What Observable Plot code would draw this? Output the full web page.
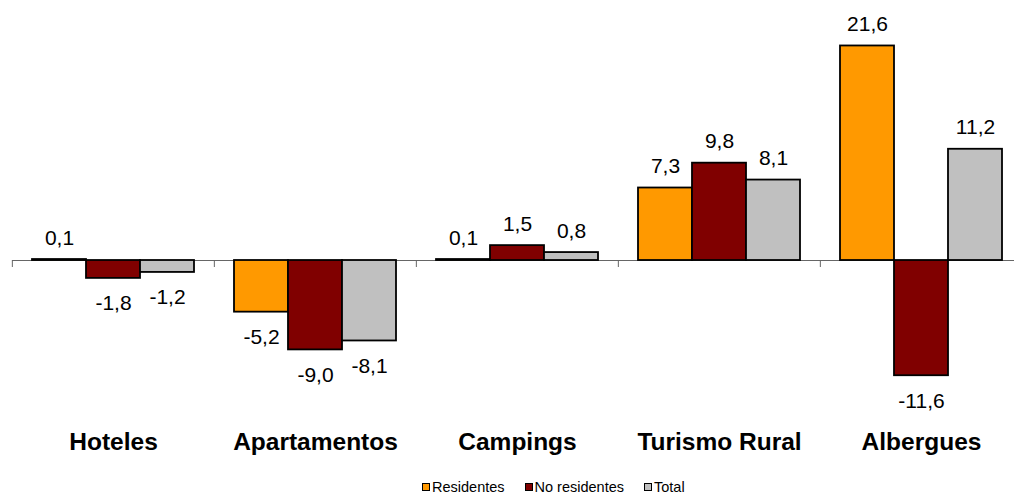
<!DOCTYPE html>
<html>
<head>
<meta charset="utf-8">
<script src="https://cdn.jsdelivr.net/npm/d3@7"></script>
<script src="https://cdn.jsdelivr.net/npm/@observablehq/plot@0.6"></script>
<style>
  html, body { margin: 0; padding: 0; background: #fff; overflow: hidden; }
  #wrap { position: relative; width: 1014px; height: 494px; font-family: Arial, "Liberation Sans", sans-serif; }
  #legend { position: absolute; left: 422px; top: 480px; height: 14px; line-height: 14px; font-size: 14.5px; display: flex; gap: 20px; color: #000; white-space: nowrap; }
  #legend .item { display: flex; align-items: center; gap: 2px; }
  #legend .sw { width: 6px; height: 6px; border: 1px solid #000; display: inline-block; }
</style>
</head>
<body>
<div id="wrap"><div id="chart"></div><div id="legend"></div></div>
<script>
const categories = ["Hoteles", "Apartamentos", "Campings", "Turismo Rural", "Albergues"];
const seriesNames = ["Residentes", "No residentes", "Total"];
const residentes = [0.1, -5.2, 0.1, 7.3, 21.6];
const noResidentes = [-1.8, -9.0, 1.5, 9.8, -11.6];
const total = [-1.2, -8.1, 0.8, 8.1, 11.2];
const colors = ["#FF9900", "#800000", "#C0C0C0"];

const seriesValues = [residentes, noResidentes, total];
const data = [];
categories.forEach((c, i) => {
  seriesNames.forEach((s, j) => {
    data.push({category: c, series: s, value: seriesValues[j][i]});
  });
});

const locale = d3.formatLocale({decimal: ",", thousands: ".", grouping: [3], minus: "-"});
const fmt = locale.format(".1f");

const H = 478;
const fxRange = [11.7, 1023.2];
const halfStep = (fxRange[1] - fxRange[0]) / categories.length / 2;
const chart = Plot.plot({
  width: 1014,
  height: H,
  marginTop: 41.5,
  marginBottom: H - 379.2,
  marginLeft: 0,
  marginRight: 0,
  style: {fontFamily: "Arial, 'Liberation Sans', sans-serif", background: "#fff", color: "#000"},
  fx: {domain: categories, range: fxRange, padding: 0, axis: null, label: null},
  x: {domain: seriesNames, paddingInner: 0, paddingOuter: 0.36, axis: null},
  y: {domain: [-12, 22], axis: null},
  color: {domain: seriesNames, range: colors},
  marks: [
    Plot.ruleY([0], {stroke: "#666", strokeWidth: 1}),
    Plot.axisFx({anchor: "bottom", tickSize: 7, dy: -119.2, dx: -halfStep, stroke: "#666", fill: "none", label: null}),
    Plot.barY(data, {fx: "category", x: "series", y: "value", fill: "series", stroke: "#000", strokeWidth: 1.8}),
    Plot.text(data.filter(d => d.value >= 0), {fx: "category", x: "series", y: "value", text: d => fmt(d.value), lineAnchor: "bottom", dy: -15, fontSize: 21, fill: "#000"}),
    Plot.text(data.filter(d => d.value < 0), {fx: "category", x: "series", y: "value", text: d => fmt(d.value), lineAnchor: "top", dy: 17, fontSize: 21, fill: "#000"}),
    Plot.axisFx({anchor: "bottom", tickSize: 0, tickPadding: 53, fontSize: 24.5, fontWeight: "bold", fill: "#000", label: null})
  ]
});
document.getElementById("chart").appendChild(chart);

const legend = document.getElementById("legend");
seriesNames.forEach((s, j) => {
  const item = document.createElement("span");
  item.className = "item";
  const sw = document.createElement("span");
  sw.className = "sw";
  sw.style.background = colors[j];
  const t = document.createElement("span");
  t.textContent = s;
  item.appendChild(sw);
  item.appendChild(t);
  legend.appendChild(item);
});
</script>
</body>
</html>
